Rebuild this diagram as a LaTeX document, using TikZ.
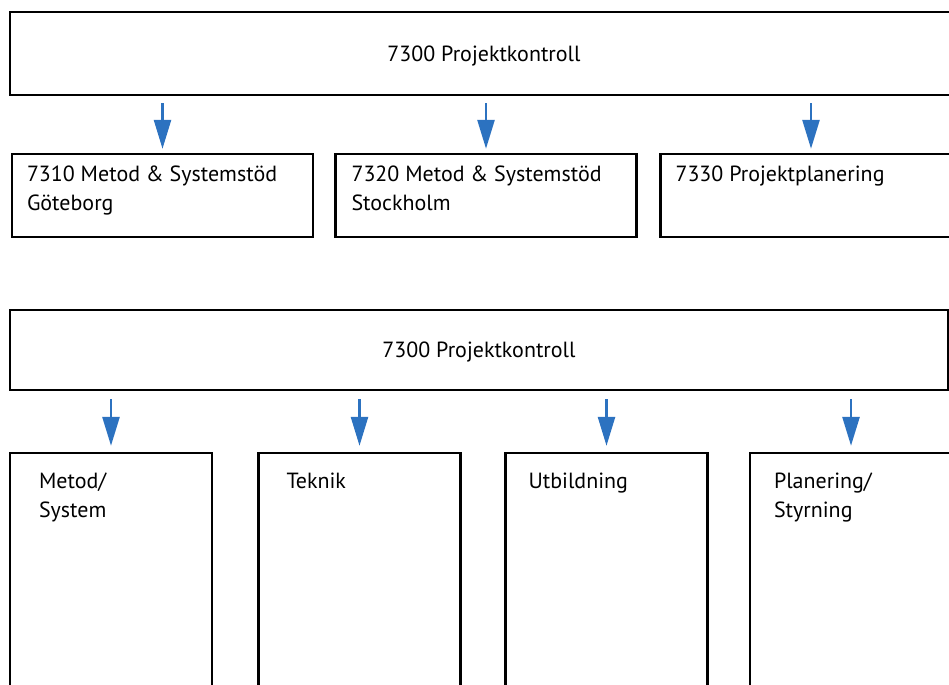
\documentclass[tikz,border=0pt]{standalone}
\usepackage{fontspec}
\setmainfont{PT Sans}
\usetikzlibrary{arrows.meta,positioning,calc}
\definecolor{org@blue}{RGB}{44,114,192}
\tikzset{
  org/.style={
    x=0.02cm, y=-0.02cm,
    line width=1.4pt,
    every node/.style={font=\fontsize{12.5}{16.5}\selectfont}
  },
  headbox/.style={                 % department box
    draw, line width=1.4pt,
    inner sep=0pt,
    text depth=0pt,
    minimum height=1.66cm
  },
  unitbox/.style={                 % sub unit box
    draw, line width=1.4pt,
    inner sep=0pt,
    minimum width=6.02cm,
    minimum height=1.66cm
  },
  groupbox/.style={                % work group box
    draw, line width=1.4pt,
    inner sep=0pt,
    minimum width=4.04cm,
    minimum height=5.4cm
  },
  boxlabel/.style={anchor=north west, inner sep=0pt, align=left},
  flow/.style={
    -{Triangle[length=0.58cm,width=0.34cm]},
    draw=org@blue, line width=1.5pt
  }
}
\begin{document}
\begin{tikzpicture}[org]
\useasboundingbox (0,0) rectangle (949,684);
\clip (0,0) rectangle (949,684);

% Upper chart
\node[headbox, minimum width=18.96cm] (top) at (484,53.5) {7300 Projektkontroll};
\node[unitbox] (u1) at (162.5,195.5) {};
\node[unitbox] (u2) at (486,195.5) {};
\node[unitbox] (u3) at (811,195.5) {};
\node[boxlabel] at ($(u1.north west)+(15,12)$) {7310 Metod \& Systemstöd\\Göteborg};
\node[boxlabel] at ($(u2.north west)+(16,12)$) {7320 Metod \& Systemstöd\\Stockholm};
\node[boxlabel] at ($(u3.north west)+(15,12)$) {7330 Projektplanering};
\foreach \u in {u1,u2,u3} {
  \draw[flow, shorten <=0.14cm, shorten >=0.08cm] (top.south -| \u.north) -- (\u.north);
}

% Lower chart
\node[headbox, minimum width=18.76cm, minimum height=1.6cm] (mid) at (479,350) {7300 Projektkontroll};
\node[groupbox] (g1) at (111,588) {};
\node[groupbox] (g2) at (359.5,588) {};
\node[groupbox] (g3) at (606.5,588) {};
\node[groupbox] (g4) at (851,588) {};
\node[boxlabel] at ($(g1.north west)+(29,20)$) {Metod/\\System};
\node[boxlabel] at ($(g2.north west)+(28,20)$) {Teknik};
\node[boxlabel] at ($(g3.north west)+(23,20)$) {Utbildning};
\node[boxlabel] at ($(g4.north west)+(24,20)$) {Planering/\\Styrning};
\foreach \g in {g1,g2,g3,g4} {
  \draw[flow, shorten <=0.16cm, shorten >=0.12cm] (mid.south -| \g.north) -- (\g.north);
}
\end{tikzpicture}
\end{document}
